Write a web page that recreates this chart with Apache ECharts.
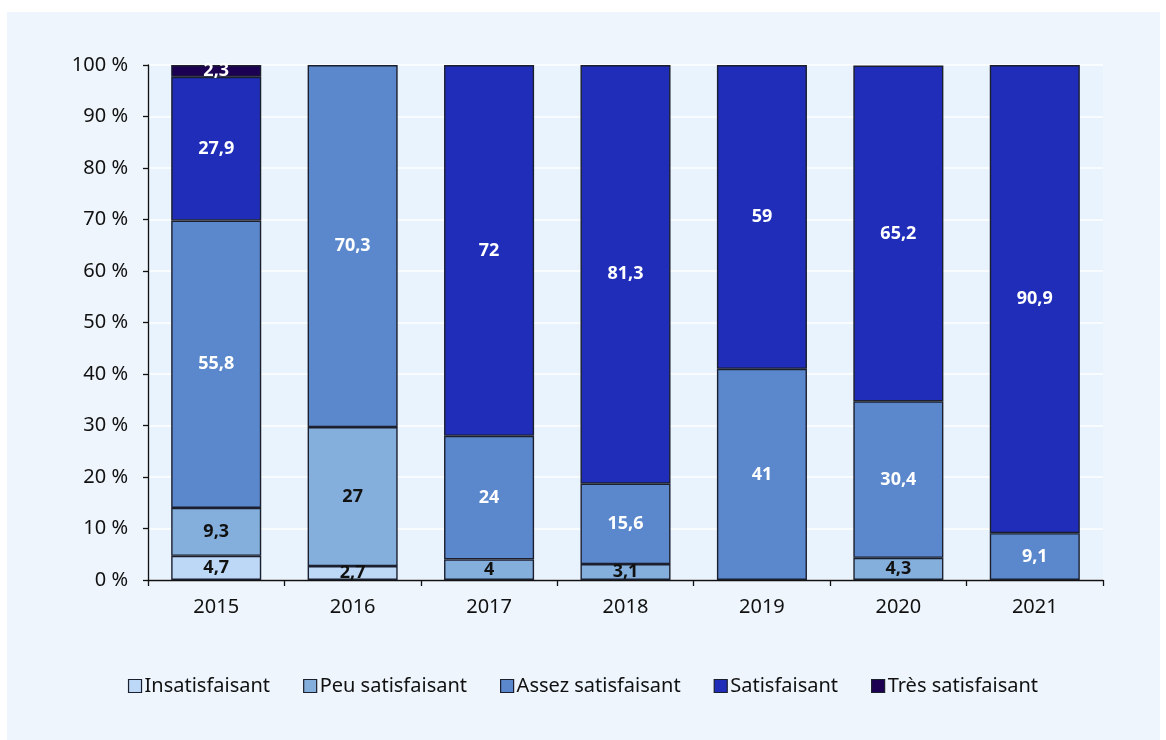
<!DOCTYPE html>
<html>
<head>
<meta charset="utf-8">
<script src="https://cdn.jsdelivr.net/npm/echarts@6/dist/echarts.min.js"></script>
<style>
  html, body { margin: 0; padding: 0; background: #ffffff; }
  #panel { position: absolute; left: 7px; top: 12px; width: 1153px; height: 728px; background: #eef5fc; }
  #chart { position: absolute; left: 0; top: 0; width: 1166px; height: 740px; }
</style>
</head>
<body>
<div id="panel"></div>
<div id="chart"></div>
<script>
// years on the x axis
const years = ['2015', '2016', '2017', '2018', '2019', '2020', '2021']
// shares in % per level
const insatisfaisant = [4.7, 2.7, 0, 0, 0, 0, 0]
const peuSatisfaisant = [9.3, 27, 4, 3.1, 0, 4.3, 0]
const assezSatisfaisant = [55.8, 70.3, 24, 15.6, 41, 30.4, 9.1]
const satisfaisant = [27.9, 0, 72, 81.3, 59, 65.2, 90.9]
const tresSatisfaisant = [2.3, 0, 0, 0, 0, 0, 0]

const font = 'Noto Sans'

function makeSeries (name, data, color, labelColor) {
  return {
    name: name,
    type: 'bar',
    stack: 'total',
    barWidth: '66%',
    // empty segments are not drawn at all
    data: data.map(function (v) { return v === 0 ? '-' : v }),
    itemStyle: {
      color: color,
      borderColor: '#1b1f2e',
      borderWidth: 1.4
    },
    label: {
      show: true,
      position: 'inside',
      fontFamily: font,
      fontSize: 18,
      fontWeight: 'bold',
      color: labelColor,
      formatter: function (p) {
        return String(p.value).replace('.', ',')
      }
    }
  }
}

let chart = echarts.init(document.getElementById('chart'))

let option = {
  backgroundColor: 'transparent',
  animation: false,
  textStyle: { fontFamily: font },
  grid: {
    left: 148,
    right: 63,
    top: 65,
    bottom: 160,
    show: true,
    backgroundColor: '#e8f3fd',
    borderWidth: 0
  },
  legend: {
    top: 671,
    left: 'center',
    itemWidth: 13,
    itemHeight: 13,
    itemGap: 33,
    icon: 'rect',
    textStyle: { fontFamily: font, fontSize: 20, color: '#111', padding: [0, 0, 0, -2] },
    itemStyle: { borderColor: '#1b1f2e', borderWidth: 1.2 },
    data: ['Insatisfaisant', 'Peu satisfaisant', 'Assez satisfaisant', 'Satisfaisant', 'Très satisfaisant']
  },
  xAxis: {
    type: 'category',
    data: years,
    axisLine: { lineStyle: { color: '#111', width: 1.3 } },
    axisTick: { show: true, length: 6, lineStyle: { color: '#111', width: 1.3 } },
    axisLabel: { fontFamily: font, fontSize: 20, color: '#111', margin: 17 }
  },
  yAxis: {
    type: 'value',
    min: 0,
    max: 100,
    interval: 10,
    axisLine: { show: true, lineStyle: { color: '#111', width: 1.3 } },
    axisTick: { show: true, length: 5, lineStyle: { color: '#111', width: 1.3 } },
    axisLabel: { fontFamily: font, fontSize: 20, color: '#111', margin: 20, formatter: '{value} %' },
    splitLine: { show: true, lineStyle: { color: '#ffffff', width: 1.5 } }
  },
  series: [
    makeSeries('Insatisfaisant', insatisfaisant, '#bdd8f6', '#111'),
    makeSeries('Peu satisfaisant', peuSatisfaisant, '#84afdc', '#111'),
    makeSeries('Assez satisfaisant', assezSatisfaisant, '#5b88cc', '#fff'),
    makeSeries('Satisfaisant', satisfaisant, '#1f2db8', '#fff'),
    makeSeries('Très satisfaisant', tresSatisfaisant, '#1c0052', '#fff')
  ]
}

chart.setOption(option)
</script>
</body>
</html>
